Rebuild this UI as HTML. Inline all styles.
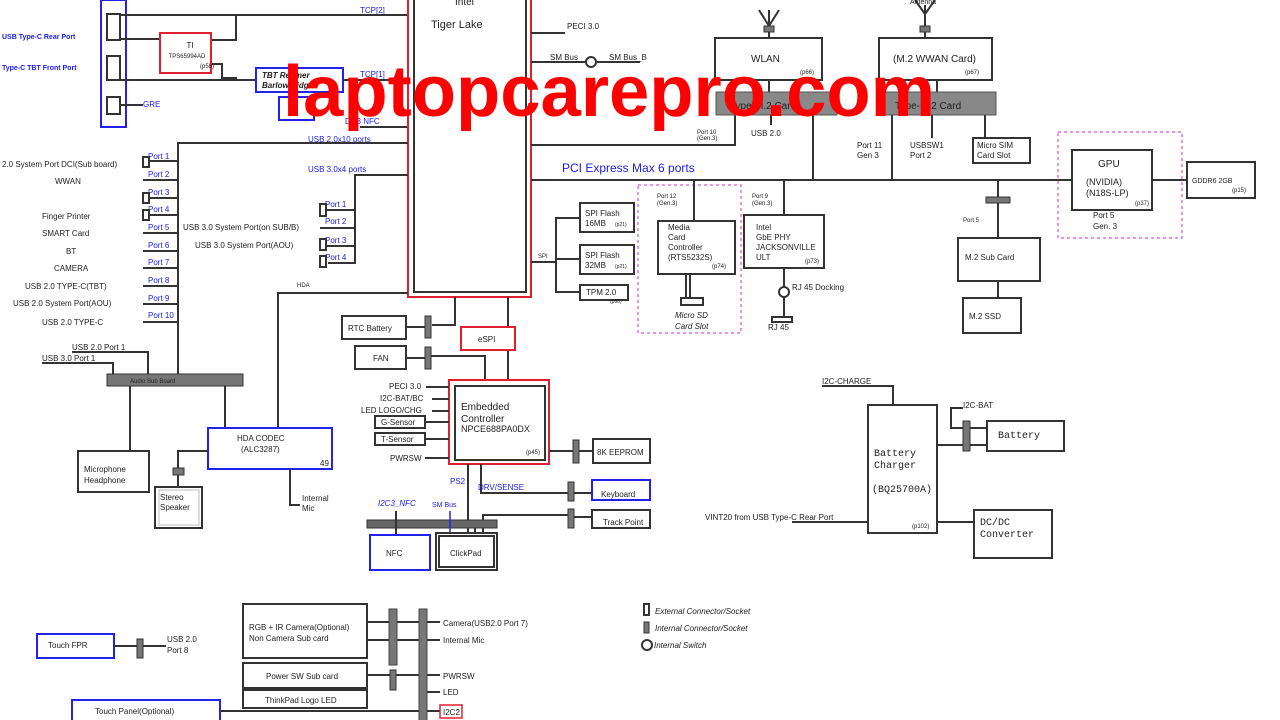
<!DOCTYPE html>
<html><head><meta charset="utf-8"><style>
html,body{margin:0;padding:0;background:#fff;width:1280px;height:720px;overflow:hidden}
svg{display:block}
text{font-family:"Liberation Sans",sans-serif;fill:#222}
.b{fill:#1a1aee}
.k{stroke:#333;stroke-width:2;fill:none}
.bx{stroke:#333;stroke-width:2;fill:#fff}
.bl{stroke:#2222ee;stroke-width:2;fill:#fff}
.rd{stroke:#e02030;stroke-width:2;fill:none}
.pk{stroke:#e070e0;stroke-width:1.5;fill:none;stroke-dasharray:3 3}
.cn{fill:#777;stroke:#333;stroke-width:1}
.mono{font-family:"Liberation Mono",monospace}
</style></head><body>
<svg width="1280" height="720" viewBox="0 0 1280 720" font-size="8">
<!-- left connector column -->
<rect x="101" y="0" width="25" height="127" class="bl" fill="none"/>
<rect x="107" y="14" width="13" height="26" class="bx"/>
<rect x="107" y="56" width="13" height="24" class="bx"/>
<rect x="107" y="97" width="13" height="17" class="bx"/>
<text x="2" y="39" class="b" font-size="7" font-weight="bold">USB Type-C Rear Port</text>
<text x="2" y="70" class="b" font-size="7" font-weight="bold">Type-C TBT Front Port</text>
<line x1="120" y1="105" x2="143" y2="105" class="k"/><text x="143" y="107" class="b">GRE</text>
<polyline points="120,15 408,15" class="k"/>
<polyline points="120,39 160,39" class="k"/>
<polyline points="211,40 236,40 236,15" class="k"/>
<polyline points="120,80 280,80" class="k"/>
<polyline points="211,64 222,64 222,78 237,78" class="k"/>
<rect x="160" y="33" width="51" height="40" fill="#fff" stroke="#e02030" stroke-width="2"/>
<text x="190" y="48" text-anchor="middle">TI</text>
<text x="187" y="58" font-size="6" text-anchor="middle">TPS65994AD</text>
<text x="200" y="68" font-size="6">(p58)</text>
<rect x="256" y="68" width="87" height="24" class="bl" fill="#fff"/>
<text x="262" y="78" font-style="italic" font-weight="bold" font-size="8" fill="#333">TBT Retimer</text>
<text x="262" y="88" font-style="italic" font-weight="bold" font-size="8" fill="#333">Barlow Ridge</text>
<rect x="279" y="97" width="35" height="23" class="bl" fill="#fff"/>
<line x1="343" y1="80" x2="408" y2="80" class="k"/>
<text x="360" y="13" class="b">TCP[2]</text>
<text x="360" y="77" class="b">TCP[1]</text>
<text x="345" y="124" class="b">DC3 NFC</text>
<line x1="360" y1="127" x2="408" y2="127" class="k"/>
<!-- CPU -->
<rect x="408" y="-5" width="123" height="302" class="rd"/>
<rect x="414" y="-5" width="112" height="297" class="k"/>
<text x="455" y="5" font-size="10">Intel</text>
<text x="431" y="28" font-size="11">Tiger Lake</text>
<!-- CPU right -->
<line x1="531" y1="33" x2="565" y2="33" class="k"/><text x="567" y="29">PECI 3.0</text>
<line x1="531" y1="62" x2="640" y2="62" class="k"/>
<circle cx="591" cy="62" r="5" class="bx"/><text x="550" y="60">SM Bus</text><text x="609" y="60">SM Bus_B</text>
<polyline points="531,145 735,145 735,114" class="k"/>
<text x="697" y="134" font-size="6">Port 10</text><text x="697" y="140" font-size="6">(Gen.3)</text>
<line x1="531" y1="180" x2="1187" y2="180" class="k"/>
<text x="562" y="172" class="b" font-size="12">PCI Express Max 6 ports</text>
<!-- WLAN -->
<polyline points="759,10 769,26 779,10" class="k" stroke-width="1.5"/><line x1="769" y1="10" x2="769" y2="38" class="k"/>
<rect x="764" y="26" width="10" height="6" class="cn"/>
<rect x="715" y="38" width="107" height="42" class="bx"/>
<text x="751" y="62" font-size="10">WLAN</text><text x="800" y="74" font-size="6">(p66)</text>
<polyline points="915,0 925,14 935,0" class="k" stroke-width="1.5"/><line x1="925" y1="5" x2="925" y2="38" class="k"/>
<rect x="920" y="26" width="10" height="6" class="cn"/><text x="910" y="4" font-size="7">Antenna</text>
<rect x="879" y="38" width="113" height="42" class="bx"/>
<text x="893" y="62" font-size="10">(M.2 WWAN Card)</text><text x="965" y="74" font-size="6">(p67)</text>
<line x1="769" y1="80" x2="769" y2="92" class="k"/><line x1="937" y1="80" x2="937" y2="92" class="k"/>
<rect x="716" y="92" width="121" height="23" fill="#888" stroke="#555"/>
<rect x="878" y="92" width="118" height="23" fill="#888" stroke="#555"/>
<text x="730" y="109" font-size="10">Type-M.2 Card</text><text x="895" y="109" font-size="10">Type-M.2 Card</text>
<line x1="771" y1="115" x2="771" y2="125" class="k"/><text x="751" y="136">USB 2.0</text>
<line x1="813" y1="115" x2="813" y2="180" class="k"/>
<line x1="892" y1="115" x2="892" y2="180" class="k"/><text x="857" y="148">Port 11</text><text x="857" y="158">Gen 3</text>
<line x1="932" y1="115" x2="932" y2="138" class="k"/><text x="910" y="148">USBSW1</text><text x="910" y="158">Port 2</text>
<line x1="985" y1="115" x2="985" y2="138" class="k"/>
<rect x="973" y="138" width="57" height="25" class="bx"/><text x="977" y="148">Micro SIM</text><text x="977" y="158">Card Slot</text>
<!-- GPU -->
<rect x="1058" y="132" width="124" height="106" class="pk"/>
<rect x="1072" y="150" width="80" height="60" class="bx"/>
<text x="1098" y="167" font-size="10">GPU</text><text x="1086" y="185" font-size="9">(NVIDIA)</text><text x="1086" y="196" font-size="9">(N18S-LP)</text><text x="1135" y="205" font-size="6">(p37)</text>
<text x="1093" y="218">Port 5</text><text x="1093" y="229">Gen. 3</text>
<rect x="1187" y="162" width="68" height="36" class="bx"/><text x="1192" y="183" font-size="7">GDDR6 2GB</text><text x="1232" y="192" font-size="6">(p15)</text>
<line x1="998" y1="180" x2="998" y2="238" class="k"/><rect x="986" y="197" width="24" height="6" class="cn"/>
<text x="963" y="222" font-size="6">Port 5</text>
<rect x="958" y="238" width="82" height="43" class="bx"/><text x="965" y="260">M.2 Sub Card</text>
<line x1="998" y1="281" x2="998" y2="298" class="k"/>
<rect x="963" y="298" width="58" height="35" class="bx"/><text x="969" y="319">M.2 SSD</text>
<!-- Media card -->
<rect x="638" y="185" width="103" height="148" class="pk"/>
<line x1="694" y1="180" x2="694" y2="221" class="k"/><text x="657" y="198" font-size="6">Port 12</text><text x="657" y="205" font-size="6">(Gen.3)</text>
<rect x="658" y="221" width="77" height="53" class="bx"/>
<text x="668" y="230">Media</text><text x="668" y="240">Card</text><text x="668" y="250">Controller</text><text x="668" y="260">(RTS5232S)</text><text x="712" y="268" font-size="6">(p74)</text>
<line x1="686" y1="274" x2="686" y2="298" class="k"/><line x1="690" y1="274" x2="690" y2="298" class="k"/>
<rect x="681" y="298" width="22" height="7" class="bx"/>
<text x="675" y="318" font-style="italic">Micro SD</text><text x="675" y="329" font-style="italic">Card Slot</text>
<!-- GbE -->
<line x1="784" y1="180" x2="784" y2="215" class="k"/><text x="752" y="198" font-size="6">Port 9</text><text x="752" y="205" font-size="6">(Gen.3)</text>
<rect x="744" y="215" width="80" height="53" class="bx"/>
<text x="756" y="230">Intel</text><text x="756" y="240">GbE PHY</text><text x="756" y="250">JACKSONVILLE</text><text x="756" y="260">ULT</text><text x="805" y="263" font-size="6">(p73)</text>
<line x1="784" y1="268" x2="784" y2="318" class="k"/><circle cx="784" cy="292" r="5" class="bx"/>
<text x="792" y="290">RJ 45 Docking</text>
<rect x="772" y="317" width="20" height="5" class="bx"/><text x="768" y="330">RJ 45</text>
<!-- SPI -->
<line x1="531" y1="262" x2="556" y2="262" class="k"/><text x="538" y="258" font-size="6">SPI</text>
<polyline points="580,218 556,218 556,292 580,292" class="k"/><line x1="556" y1="259" x2="580" y2="259" class="k"/>
<rect x="580" y="203" width="54" height="29" class="bx"/><text x="585" y="216">SPI Flash</text><text x="585" y="226">16MB</text><text x="615" y="226" font-size="5">(p21)</text>
<rect x="580" y="245" width="54" height="29" class="bx"/><text x="585" y="258">SPI Flash</text><text x="585" y="268">32MB</text><text x="615" y="268" font-size="5">(p21)</text>
<rect x="580" y="285" width="48" height="15" class="bx"/><text x="586" y="295">TPM 2.0</text><text x="610" y="303" font-size="5">(p88)</text>
<!-- USB2 ports -->
<polyline points="408,143 178,143 178,375" class="k"/>
<text x="308" y="142" class="b">USB 2.0x10 ports</text>
<g font-size="8">
<text x="148" y="159" class="b">Port 1</text><text x="148" y="177" class="b">Port 2</text><text x="148" y="195" class="b">Port 3</text><text x="148" y="212" class="b">Port 4</text><text x="148" y="230" class="b">Port 5</text><text x="148" y="248" class="b">Port 6</text><text x="148" y="265" class="b">Port 7</text><text x="148" y="283" class="b">Port 8</text><text x="148" y="301" class="b">Port 9</text><text x="148" y="318" class="b">Port 10</text></g>
<g class="k" stroke-width="1.5">
<line x1="143" y1="161" x2="178" y2="161"/><line x1="143" y1="180" x2="178" y2="180"/><line x1="143" y1="198" x2="178" y2="198"/><line x1="143" y1="215" x2="178" y2="215"/><line x1="143" y1="233" x2="178" y2="233"/><line x1="143" y1="251" x2="178" y2="251"/><line x1="143" y1="268" x2="178" y2="268"/><line x1="143" y1="286" x2="178" y2="286"/><line x1="143" y1="304" x2="178" y2="304"/><line x1="143" y1="322" x2="178" y2="322"/></g>
<rect x="143" y="157" width="6" height="10" class="bx" stroke-width="1.5"/><rect x="143" y="193" width="6" height="10" class="bx" stroke-width="1.5"/><rect x="143" y="210" width="6" height="10" class="bx" stroke-width="1.5"/>
<text x="2" y="167">2.0 System Port DCI(Sub board)</text><text x="55" y="184">WWAN</text>
<text x="42" y="219">Finger  Printer</text><text x="42" y="236">SMART  Card</text><text x="66" y="254">BT</text><text x="54" y="271">CAMERA</text>
<text x="25" y="289">USB 2.0 TYPE-C(TBT)</text><text x="13" y="306">USB 2.0 System Port(AOU)</text><text x="42" y="325">USB 2.0 TYPE-C</text>
<!-- USB3 -->
<polyline points="408,175 355,175 355,263 328,263" class="k"/>
<text x="308" y="172" class="b">USB 3.0x4 ports</text>
<line x1="320" y1="210" x2="355" y2="210" class="k"/><line x1="320" y1="228" x2="355" y2="228" class="k"/><line x1="320" y1="246" x2="355" y2="246" class="k"/>
<text x="325" y="207" class="b">Port 1</text><text x="325" y="224" class="b">Port 2</text><text x="325" y="243" class="b">Port 3</text><text x="325" y="260" class="b">Port 4</text>
<rect x="320" y="204" width="6" height="12" class="bx" stroke-width="1.5"/><rect x="320" y="239" width="6" height="11" class="bx" stroke-width="1.5"/><rect x="320" y="256" width="6" height="11" class="bx" stroke-width="1.5"/>
<text x="183" y="230">USB 3.0 System Port(on SUB/B)</text><text x="195" y="248">USB 3.0 System Port(AOU)</text>
<!-- HDA -->
<polyline points="408,293 278,293 278,428" class="k"/><text x="297" y="287" font-size="6">HDA</text>
<!-- CPU bottom -->
<polyline points="455,297 455,325 432,325" class="k"/>
<line x1="508" y1="297" x2="508" y2="380" class="k"/>
<rect x="342" y="316" width="64" height="23" class="bx"/><text x="348" y="331">RTC Battery</text>
<rect x="425" y="316" width="6" height="22" class="cn"/><line x1="406" y1="327" x2="425" y2="327" class="k"/>
<rect x="355" y="346" width="51" height="23" class="bx"/><text x="373" y="361">FAN</text>
<rect x="425" y="347" width="6" height="22" class="cn"/><line x1="406" y1="358" x2="425" y2="358" class="k"/>
<polyline points="431,356 485,356 485,380" class="k"/>
<rect x="461" y="327" width="54" height="23" fill="#fff" stroke="#e02030" stroke-width="2"/><text x="478" y="342">eSPI</text>
<!-- EC -->
<rect x="449" y="380" width="100" height="84" class="rd" fill="#fff"/>
<rect x="455" y="386" width="90" height="74" class="k"/>
<text x="461" y="410" font-size="10">Embedded</text><text x="461" y="422" font-size="10">Controller</text><text x="461" y="432" font-size="9">NPCE688PA0DX</text><text x="526" y="454" font-size="6">(p45)</text>
<g class="k" stroke-width="1.5"><line x1="426" y1="387" x2="449" y2="387"/><line x1="432" y1="399" x2="449" y2="399"/><line x1="432" y1="411" x2="449" y2="411"/><line x1="425" y1="422" x2="449" y2="422"/><line x1="425" y1="439" x2="449" y2="439"/><line x1="425" y1="458" x2="449" y2="458"/></g>
<text x="389" y="389">PECI 3.0</text><text x="380" y="401">I2C-BAT/BC</text><text x="361" y="413">LED LOGO/CHG</text>
<rect x="375" y="416" width="50" height="12" class="bx" stroke-width="1.5"/><text x="381" y="425">G-Sensor</text>
<rect x="375" y="433" width="50" height="12" class="bx" stroke-width="1.5"/><text x="381" y="442">T-Sensor</text>
<text x="390" y="461">PWRSW</text>
<line x1="549" y1="451" x2="573" y2="451" class="k"/><rect x="573" y="440" width="6" height="23" class="cn"/><line x1="579" y1="451" x2="593" y2="451" class="k"/>
<rect x="593" y="439" width="57" height="24" class="bx"/><text x="597" y="455">8K EEPROM</text>
<polyline points="481,464 481,493 568,493" class="k"/><text x="478" y="490" class="b">DRV/SENSE</text>
<rect x="568" y="482" width="6" height="19" class="cn"/><line x1="574" y1="493" x2="592" y2="493" class="k"/>
<rect x="592" y="480" width="58" height="20" class="bl"/><text x="601" y="497">Keyboard</text>
<polyline points="483,533 483,515 568,515" class="k"/>
<rect x="568" y="509" width="6" height="19" class="cn"/><line x1="574" y1="517" x2="592" y2="517" class="k"/>
<rect x="592" y="510" width="58" height="18" class="bx"/><text x="603" y="525">Track Point</text>
<line x1="468" y1="464" x2="468" y2="533" class="k"/><text x="450" y="484" class="b">PS2</text>
<rect x="367" y="520" width="130" height="8" fill="#666" stroke="#333"/>
<text x="378" y="506" class="b" font-style="italic">I2C3_NFC</text><text x="432" y="507" class="b" font-size="7">SM Bus</text>
<line x1="396" y1="511" x2="396" y2="535" class="k"/><line x1="450" y1="511" x2="450" y2="535" stroke="#2222ee" stroke-width="1.5"/>
<line x1="475" y1="528" x2="475" y2="535" class="k"/>
<rect x="370" y="535" width="60" height="35" class="bl"/><text x="386" y="556">NFC</text>
<rect x="436" y="533" width="61" height="37" class="bx"/><rect x="439" y="536" width="55" height="31" class="k" stroke-width="1"/><text x="450" y="556">ClickPad</text>
<!-- Audio -->
<polyline points="42,363 113,363 113,374" class="k" stroke-width="1.5"/><polyline points="72,352 148,352 148,374" class="k" stroke-width="1.5"/>
<text x="72" y="350">USB 2.0 Port 1</text><text x="42" y="361">USB 3.0 Port 1</text>
<rect x="107" y="374" width="136" height="12" fill="#777" stroke="#333"/>
<text x="130" y="383" font-size="6" fill="#222">Audio Sub Board</text>
<line x1="130" y1="386" x2="130" y2="451" class="k"/><line x1="225" y1="386" x2="225" y2="428" class="k"/>
<rect x="78" y="451" width="71" height="41" class="bx"/><text x="84" y="472">Microphone</text><text x="84" y="483">Headphone</text>
<rect x="208" y="428" width="124" height="41" class="bl"/><text x="237" y="441">HDA CODEC</text><text x="241" y="452">(ALC3287)</text><text x="320" y="466">49</text>
<polyline points="208,451 178,451 178,487" class="k"/><rect x="173" y="468" width="11" height="7" class="cn"/>
<rect x="155" y="487" width="47" height="41" class="bx"/><rect x="159" y="490" width="40" height="35" fill="none" stroke="#bbb"/>
<text x="160" y="500">Stereo</text><text x="160" y="510">Speaker</text>
<polyline points="290,469 290,505 300,505" class="k" stroke-width="1.5"/><text x="302" y="501">Internal</text><text x="302" y="511">Mic</text>
<!-- Bottom -->
<rect x="37" y="634" width="77" height="24" class="bl"/><text x="48" y="648">Touch FPR</text>
<line x1="114" y1="646" x2="166" y2="646" class="k"/><rect x="137" y="639" width="6" height="19" class="cn"/>
<text x="167" y="642">USB 2.0</text><text x="167" y="653">Port 8</text>
<rect x="243" y="604" width="124" height="54" class="bx"/><text x="249" y="630">RGB + IR Camera(Optional)</text><text x="249" y="641">Non Camera Sub card</text>
<rect x="243" y="663" width="124" height="25" class="bx"/><text x="266" y="679">Power SW Sub card</text>
<rect x="243" y="690" width="124" height="18" class="bx"/><text x="265" y="703">ThinkPad Logo LED</text>
<rect x="72" y="700" width="148" height="22" class="bl"/><text x="95" y="714">Touch Panel(Optional)</text>
<g class="k" stroke-width="1.5"><line x1="367" y1="622" x2="440" y2="622"/><line x1="367" y1="640" x2="440" y2="640"/><line x1="367" y1="675" x2="440" y2="675"/><line x1="423" y1="692" x2="440" y2="692"/><line x1="220" y1="711" x2="440" y2="711"/></g>
<rect x="389" y="609" width="8" height="56" fill="#777" stroke="#444"/>
<rect x="419" y="609" width="8" height="115" fill="#777" stroke="#444"/>
<rect x="390" y="670" width="6" height="20" class="cn"/>
<text x="443" y="626">Camera(USB2.0 Port 7)</text><text x="443" y="643">Internal Mic</text><text x="443" y="679">PWRSW</text><text x="443" y="695">LED</text>
<rect x="440" y="705" width="22" height="13" fill="#fff" stroke="#e02030" stroke-width="1.5"/><text x="443" y="715">I2C2</text>
<!-- Legend -->
<rect x="644" y="604" width="5" height="11" class="bx" stroke-width="1.2"/><text x="655" y="614" font-style="italic">External Connector/Socket</text>
<rect x="644" y="622" width="5" height="11" class="cn"/><text x="655" y="631" font-style="italic">Internal Connector/Socket</text>
<circle cx="647" cy="645" r="5" class="bx" stroke-width="1.2"/><text x="654" y="648" font-style="italic">Internal Switch</text>
<!-- Battery charger -->
<polyline points="822,386 893,386 893,405" class="k"/><text x="822" y="384">I2C-CHARGE</text>
<rect x="868" y="405" width="69" height="128" class="bx"/>
<text x="874" y="456" class="mono" font-size="10">Battery</text><text x="874" y="468" class="mono" font-size="10">Charger</text><text x="872" y="492" class="mono" font-size="10">(BQ25700A)</text><text x="912" y="528" font-size="6">(p102)</text>
<polyline points="966,428 951,428 951,408 963,408" class="k" stroke-width="1.5"/>
<line x1="966" y1="428" x2="987" y2="428" class="k" stroke-width="1.5"/>
<text x="963" y="408">I2C-BAT</text>
<line x1="937" y1="445" x2="987" y2="445" class="k"/><rect x="963" y="421" width="7" height="30" class="cn" fill="#ccc"/>
<rect x="987" y="421" width="77" height="30" class="bx"/><text x="998" y="438" class="mono" font-size="10">Battery</text>
<line x1="937" y1="522" x2="974" y2="522" class="k"/>
<rect x="974" y="510" width="78" height="48" class="bx"/><text x="980" y="525" class="mono" font-size="10">DC/DC</text><text x="980" y="537" class="mono" font-size="10">Converter</text>
<line x1="792" y1="522" x2="868" y2="522" class="k"/><text x="705" y="520">VINT20 from USB Type-C Rear Port</text>
<!-- watermark -->
<text x="283" y="116" font-size="72" font-weight="bold" textLength="652" lengthAdjust="spacingAndGlyphs" style="fill:#ff0000">laptopcarepro.com</text>
</svg>
</body></html>
